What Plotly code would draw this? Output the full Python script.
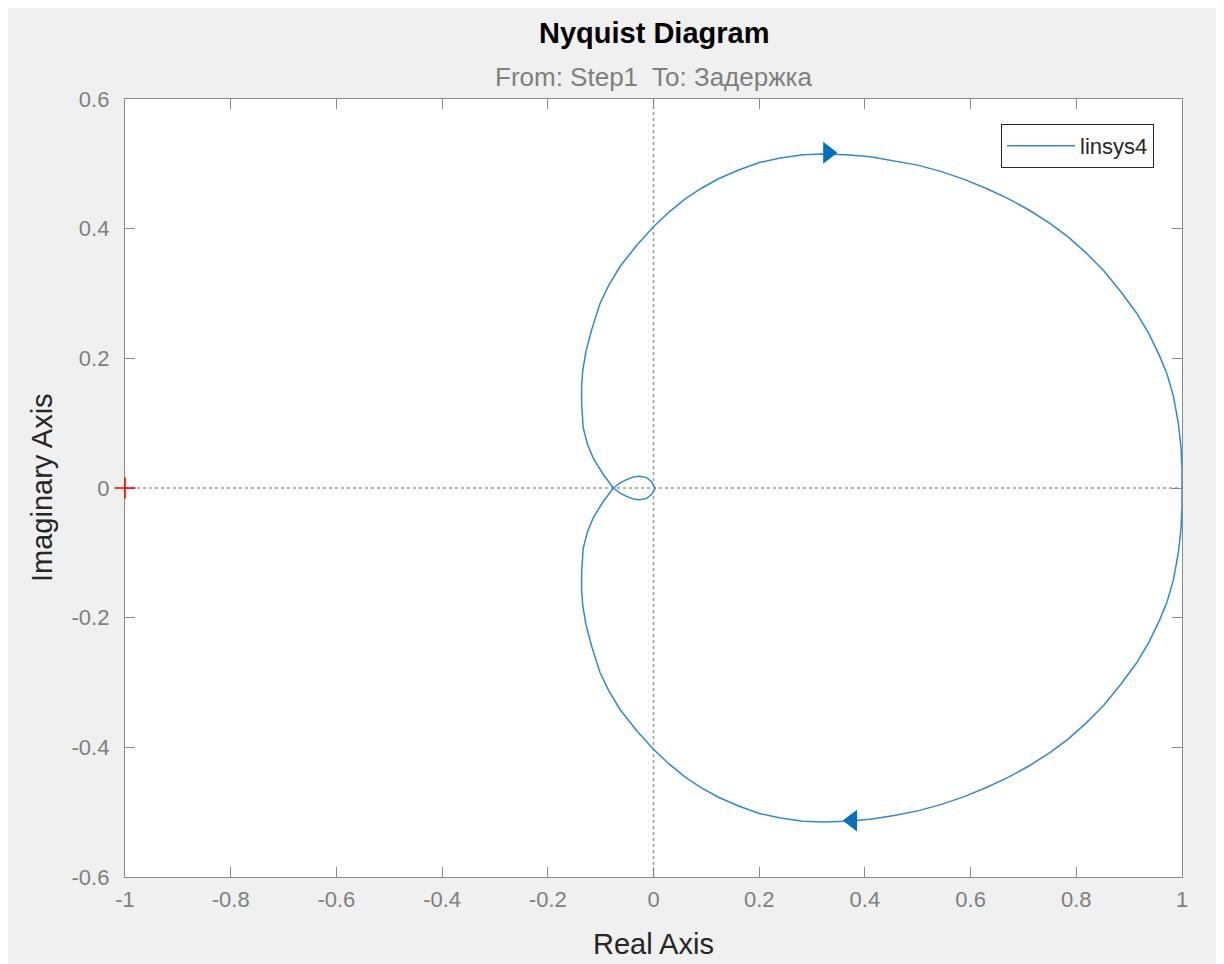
import plotly.graph_objects as go

# Positive-frequency branch of the Nyquist curve
pos_re = [1.000, 1.000, 0.998, 0.993, 0.984, 0.972, 0.958, 0.938, 0.914, 0.885,
          0.852, 0.818, 0.785, 0.750, 0.712, 0.672, 0.630, 0.588, 0.545, 0.500,
          0.455, 0.410, 0.365, 0.320, 0.283, 0.240, 0.200, 0.160, 0.123, 0.090,
          0.060, 0.030, 0.000, -0.032, -0.063, -0.085, -0.101, -0.117, -0.128, -0.134,
          -0.136, -0.136, -0.133, -0.125, -0.114, -0.096, -0.076, -0.063, -0.051, -0.038,
          -0.026, -0.013, -0.004, 0.001, 0.003]
pos_im = [0.000, -0.030, -0.064, -0.100, -0.141, -0.175, -0.203, -0.237, -0.270, -0.302,
          -0.335, -0.363, -0.387, -0.408, -0.428, -0.446, -0.462, -0.476, -0.488, -0.498,
          -0.505, -0.511, -0.514, -0.515, -0.514, -0.509, -0.502, -0.490, -0.477, -0.462,
          -0.446, -0.426, -0.403, -0.374, -0.342, -0.312, -0.285, -0.244, -0.210, -0.180,
          -0.158, -0.130, -0.093, -0.068, -0.046, -0.022, 0.000, 0.008, 0.013, 0.017,
          0.018, 0.016, 0.010, 0.004, 0.000]

# Direction arrows on the curve
arrow_re = [0.330, 0.376]
arrow_im = [0.517, -0.513]
arrow_sym = ["triangle-right", "triangle-left"]

# Critical point
crit_re = [-1.0]
crit_im = [0.0]

series_name = "linsys4"
x_ticks = [-1, -0.8, -0.6, -0.4, -0.2, 0, 0.2, 0.4, 0.6, 0.8, 1]
x_tick_text = ["-1", "-0.8", "-0.6", "-0.4", "-0.2", "0", "0.2", "0.4", "0.6", "0.8", "1"]
y_ticks = [-0.6, -0.4, -0.2, 0, 0.2, 0.4, 0.6]
y_tick_text = ["-0.6", "-0.4", "-0.2", "0", "0.2", "0.4", "0.6"]

# Full closed contour: positive branch, then mirrored (negative-frequency) branch
curve_re = pos_re + pos_re[::-1]
curve_im = pos_im + [-v for v in pos_im[::-1]]

FONT = "Liberation Sans, Arial, Helvetica, sans-serif"
LINE_C = "#2e8ad2"
AX_C = "#8a8a8a"
TXT_C = "#7f7f7f"

fig = go.Figure()
fig.add_trace(go.Scatter(x=curve_re, y=curve_im, mode="lines", name=series_name,
                         line=dict(color=LINE_C, width=1.5), showlegend=True))
fig.add_trace(go.Scatter(x=arrow_re, y=arrow_im, mode="markers", showlegend=False,
                         marker=dict(symbol=arrow_sym, size=19, color="#0072BD",
                                     line=dict(width=0)), hoverinfo="skip"))
fig.add_trace(go.Scatter(x=crit_re, y=crit_im, mode="markers", showlegend=False,
                         cliponaxis=False,
                         marker=dict(symbol="cross-thin", size=15, color="red",
                                     line=dict(color="red", width=1.6))))

W, H = 1216, 956
L, T = 117, 91
R = W - (1182 - 8)
B = H - (877 - 8)

axis_common = dict(showgrid=False, zeroline=False, showline=True, linecolor=AX_C,
                   linewidth=1.3, mirror="ticks", ticks="inside", ticklen=10,
                   tickcolor=AX_C, tickwidth=1.2, layer="below traces",
                   tickfont=dict(family=FONT, size=22, color=TXT_C))

fig.update_layout(
    width=W, height=H,
    margin=dict(l=L, r=R, t=T, b=B, pad=0),
    paper_bgcolor="#f0f0f0", plot_bgcolor="white",
    font=dict(family=FONT),
    xaxis=dict(range=[-1, 1], tickvals=x_ticks, ticktext=x_tick_text,
               ticklabelstandoff=2, **axis_common),
    yaxis=dict(range=[-0.6, 0.6], tickvals=y_ticks, ticktext=y_tick_text,
               ticklabelstandoff=10, **axis_common),
    legend=dict(x=(1001 - 125) / 1057, y=(877 - 124) / 778, xanchor="left", yanchor="top",
                bgcolor="white", bordercolor="#262626", borderwidth=1, itemwidth=68,
                font=dict(family=FONT, size=22, color="#262626")),
    shapes=[
        dict(type="line", xref="x", yref="y", x0=-1, x1=1, y0=0, y1=0,
             line=dict(color="#9a9a9a", width=1.5, dash="dot"), layer="below"),
        dict(type="line", xref="x", yref="y", x0=0, x1=0, y0=-0.6, y1=0.6,
             line=dict(color="#9a9a9a", width=1.5, dash="dot"), layer="below"),
    ],
    annotations=[
        dict(text="<b>Nyquist Diagram</b>", xref="paper", yref="paper", x=0.5,
             y=(877 - 33) / 778, showarrow=False, yanchor="middle",
             font=dict(family=FONT, size=29, color="#000000")),
        dict(text="From: Step1  To: Задержка", xref="paper", yref="paper", x=0.5,
             y=(877 - 77) / 778, showarrow=False, yanchor="middle",
             font=dict(family=FONT, size=26, color=TXT_C)),
        dict(text="Real Axis", xref="paper", yref="paper", x=0.5,
             y=(877 - 944) / 778, showarrow=False, yanchor="middle",
             font=dict(family=FONT, size=29, color="#262626")),
        dict(text="Imaginary Axis", xref="paper", yref="paper", x=(42 - 125) / 1057,
             y=0.5, showarrow=False, textangle=-90, xanchor="center", yanchor="middle",
             font=dict(family=FONT, size=29, color="#262626")),
    ],
)

fig.write_html("out.html")
